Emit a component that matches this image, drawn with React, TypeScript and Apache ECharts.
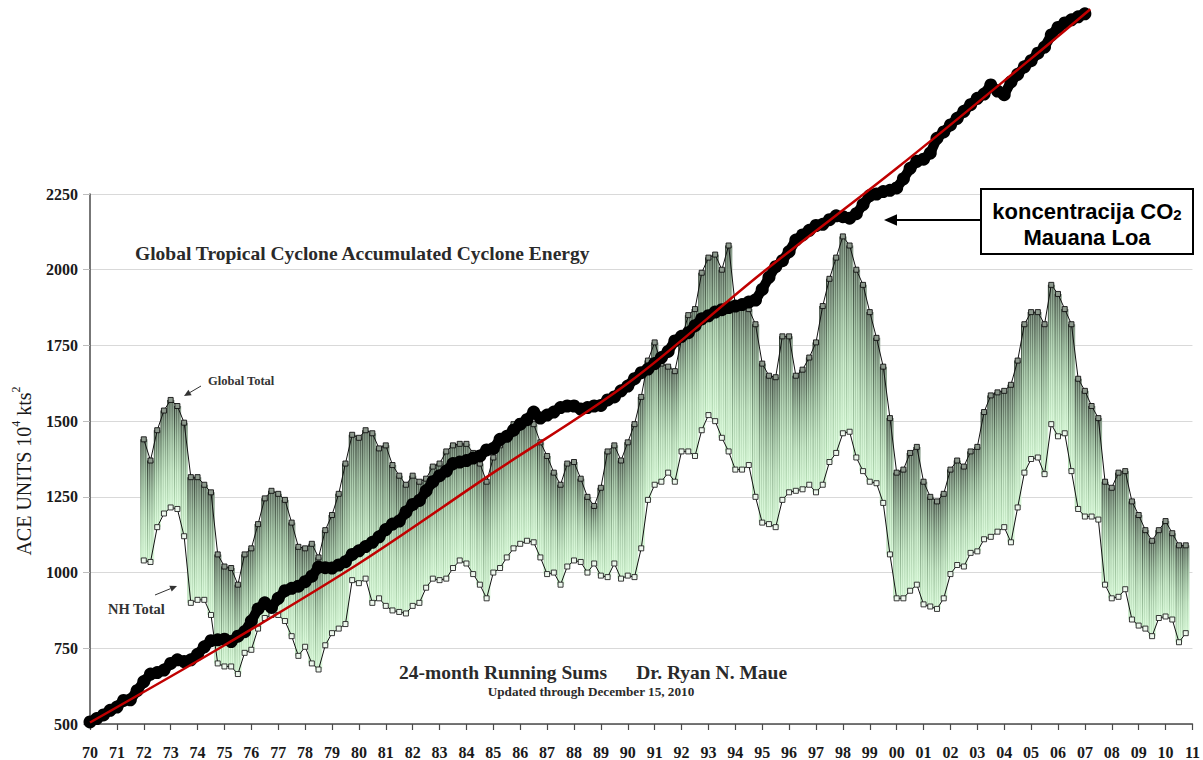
import React, { useEffect, useRef } from 'react';
import * as echarts from 'echarts';

// ---------- DATA ----------
// Quarterly 24-month running sums, first point = 1972.0, step 0.25 year
const aceStartYear = 1972;
const aceStep = 0.25;

const globalTotal = [
  1440, 1370, 1470, 1535,
  1570, 1550, 1495, 1315,
  1315, 1290, 1265, 1060,
  1020, 1015, 960, 1060,
  1080, 1160, 1245, 1270,
  1260, 1240, 1165, 1085,
  1080, 1095, 1050, 1140,
  1190, 1260, 1360, 1455,
  1445, 1470, 1460, 1410,
  1420, 1355, 1320, 1290,
  1320, 1300, 1310, 1350,
  1360, 1400, 1420, 1425,
  1425, 1395, 1360, 1300,
  1380, 1420, 1455, 1490,
  1500, 1495, 1490, 1430,
  1385, 1330, 1290, 1360,
  1365, 1310, 1250, 1220,
  1280, 1400, 1420, 1370,
  1430, 1490, 1580, 1700,
  1760, 1690, 1680, 1665,
  1770, 1850, 1870, 1990,
  2040, 2050, 2000, 2080,
  1880, 1885, 1870, 1820,
  1690, 1650, 1645, 1780,
  1780, 1650, 1670, 1710,
  1760, 1880, 1970, 2040,
  2110, 2080, 2000, 1950,
  1860, 1775, 1680, 1510,
  1330, 1340, 1395, 1415,
  1300, 1250, 1235, 1260,
  1340, 1370, 1350, 1400,
  1415, 1530, 1585, 1595,
  1600, 1620, 1700, 1820,
  1860, 1860, 1820, 1950,
  1920, 1870, 1820, 1640,
  1600, 1550, 1510, 1300,
  1280, 1330, 1335, 1235,
  1190, 1140, 1105, 1140,
  1170, 1130, 1090, 1090,
];

const nhTotal = [
  1040, 1035, 1150, 1195,
  1215, 1210, 1120, 900,
  910, 910, 860, 700,
  690, 690, 665, 735,
  745, 815, 850, 860,
  860, 840, 790, 725,
  755, 700, 680, 760,
  800, 815, 830, 975,
  965, 980, 900, 915,
  890, 875, 870, 865,
  890, 900, 950, 980,
  975, 980, 1015, 1040,
  1030, 995, 960, 915,
  1000, 1015, 1050, 1080,
  1095, 1105, 1100, 1050,
  995, 1000, 960, 1020,
  1040, 1035, 1000, 1030,
  990, 985, 1030, 980,
  990, 985, 1080, 1240,
  1290, 1300, 1330, 1300,
  1400, 1400, 1385, 1470,
  1520, 1500, 1445, 1400,
  1340, 1340, 1355, 1250,
  1165, 1160, 1150, 1240,
  1265, 1270, 1275, 1290,
  1265, 1290, 1365, 1395,
  1460, 1465, 1380, 1335,
  1300, 1295, 1230, 1060,
  915, 915, 940, 960,
  895, 888, 880, 915,
  995, 1025, 1020, 1065,
  1070, 1110, 1118, 1135,
  1150, 1100, 1215, 1330,
  1375, 1380, 1325, 1490,
  1450, 1460, 1335, 1210,
  1185, 1185, 1175, 960,
  915, 920, 945, 845,
  825, 815, 790, 850,
  855, 845, 770, 800,
];

// CO2 concentration (Mauna Loa), drawn on the chart's scale, quarterly from 1970.0
const co2StartYear = 1970;
const co2Step = 0.25;
const co2Values = [
  507, 518, 530, 545,
  556, 578, 580, 610,
  640, 665, 670, 678,
  700, 712, 706, 712,
  730, 755, 775, 778,
  780, 772, 790, 805,
  840, 880, 900, 885,
  915, 940, 948, 955,
  970, 988, 1018, 1016,
  1015, 1025, 1036, 1060,
  1072, 1086, 1100, 1118,
  1142, 1160, 1170, 1200,
  1225, 1238, 1270, 1300,
  1320, 1335, 1360, 1365,
  1370, 1378, 1385, 1405,
  1410, 1440, 1450, 1470,
  1490, 1505, 1530, 1510,
  1520, 1530, 1545, 1550,
  1550, 1540, 1545, 1550,
  1552, 1570, 1580, 1600,
  1616, 1640, 1660, 1672,
  1690, 1710, 1730, 1765,
  1780, 1792, 1815, 1838,
  1848, 1860, 1868, 1875,
  1880, 1885, 1893, 1900,
  1935, 1975, 2010, 2030,
  2060, 2098, 2115, 2130,
  2146, 2150, 2165, 2178,
  2175, 2170, 2185, 2215,
  2245, 2250, 2258, 2262,
  2270, 2300, 2335, 2358,
  2365, 2385, 2434, 2455,
  2478, 2500, 2523, 2545,
  2566, 2580, 2610, 2590,
  2578, 2620, 2645, 2670,
  2690, 2715, 2735, 2775,
  2800, 2815, 2825, 2835,
  2845,
];

// red trend curve
const trendYears = [1970, 1975, 1980, 1985, 1990, 1995, 2000, 2005, 2007.2];
const trendValues = [505, 760, 1030, 1330, 1625, 1990, 2335, 2697, 2860];

// x axis tick labels 1970..2011
const yearTickLabels = [
  '70', '71', '72', '73', '74', '75', '76', '77', '78', '79',
  '80', '81', '82', '83', '84', '85', '86', '87', '88', '89',
  '90', '91', '92', '93', '94', '95', '96', '97', '98', '99',
  '00', '01', '02', '03', '04', '05', '06', '07', '08', '09',
  '10', '11',
];
const firstTickYear = 1970;
const lastTickYear = 2011;

const SERIF = '"Liberation Serif", "DejaVu Serif", serif';
const SANS = '"Liberation Sans", Arial, sans-serif';

function arrow(x1: number, y1: number, x2: number, y2: number, color: string, lw: number, head: number) {
  const ang = Math.atan2(y2 - y1, x2 - x1);
  const hx = x2 - Math.cos(ang) * head;
  const hy = y2 - Math.sin(ang) * head;
  const px = -Math.sin(ang) * head * 0.45;
  const py = Math.cos(ang) * head * 0.45;
  return [
    { type: 'line', shape: { x1, y1, x2: hx, y2: hy }, style: { stroke: color, lineWidth: lw }, z: 100 },
    {
      type: 'polygon',
      shape: { points: [[x2, y2], [hx + px, hy + py], [hx - px, hy - py]] },
      style: { fill: color },
      z: 100,
    },
  ];
}

function vGrad(stops: [number, string][]) {
  return new echarts.graphic.LinearGradient(
    0, 0, 0, 1,
    stops.map(([offset, color]) => ({ offset, color }))
  );
}

export default function App() {
  const ref = useRef<HTMLDivElement>(null);

  useEffect(() => {
    const chart = echarts.init(ref.current!, null, { renderer: 'svg' });

    const aceYears = globalTotal.map((_, i) => aceStartYear + i * aceStep);
    const bandData = aceYears.map((x, i) => [x, nhTotal[i], globalTotal[i]]);
    const globalData = aceYears.map((x, i) => [x, globalTotal[i]]);
    const nhData = aceYears.map((x, i) => [x, nhTotal[i]]);
    const co2Data = co2Values.map((v, i) => [co2StartYear + i * co2Step, v]);
    const trendData = trendYears.map((x, i) => [x, trendValues[i]]);

    const option: any = {
      animation: false,
      backgroundColor: '#ffffff',
      grid: { left: 90, right: 6, top: 194, bottom: 36, containLabel: false },
      xAxis: {
        type: 'value',
        min: firstTickYear,
        max: lastTickYear,
        interval: 1,
        axisLine: { show: true, lineStyle: { color: '#4a4a4a', width: 1.5 } },
        axisTick: { show: true, length: 6, lineStyle: { color: '#4a4a4a', width: 1.2 } },
        splitLine: { show: false },
        axisLabel: {
          margin: 20,
          color: '#1a1a1a',
          fontFamily: SERIF,
          fontWeight: 'bold',
          fontSize: 16,
          showMaxLabel: true,
          showMinLabel: true,
          formatter: (v: number) => yearTickLabels[Math.round(v - firstTickYear)] ?? '',
        },
      },
      yAxis: {
        type: 'value',
        min: 500,
        max: 2250,
        interval: 250,
        axisLine: { show: true, lineStyle: { color: '#4a4a4a', width: 1.5 } },
        axisTick: { show: true, length: 7, lineStyle: { color: '#bdbdbd' } },
        splitLine: { show: true, lineStyle: { color: '#d9d9d9', width: 1 } },
        axisLabel: {
          margin: 12,
          color: '#1a1a1a',
          fontFamily: SERIF,
          fontWeight: 'bold',
          fontSize: 16,
          formatter: (v: number) => String(v),
        },
      },
      series: [
        {
          type: 'custom',
          name: 'band',
          z: 1,
          clip: true,
          data: bandData,
          renderItem: (params: any, api: any) => {
            const x = api.value(0);
            const lo = api.value(1);
            const hi = api.value(2);
            const top = api.coord([x, hi]);
            const bot = api.coord([x, lo]);
            const w = api.size([aceStep, 0])[0];
            const h = Math.max(1, bot[1] - top[1]);
            const x0 = top[0] - w / 2;
            return {
              type: 'group',
              children: [
                {
                  type: 'rect',
                  shape: { x: x0, y: top[1], width: w + 0.4, height: h },
                  style: {
                    fill: vGrad([[0, '#869888'], [0.3, '#aacaac'], [0.65, '#cdeecd'], [1, '#dcf9dc']]),
                  },
                },
                {
                  type: 'rect',
                  shape: { x: x0, y: top[1], width: 0.9, height: h },
                  style: { fill: vGrad([[0, '#263027'], [0.45, '#6d8a6f'], [1, '#b5dfb5']]) },
                },
                {
                  type: 'rect',
                  shape: { x: x0 + w / 3, y: top[1], width: 0.7, height: h },
                  style: { fill: vGrad([[0, '#3a463b'], [0.45, '#86a488'], [1, '#c5ebc5']]) },
                },
                {
                  type: 'rect',
                  shape: { x: x0 + (2 * w) / 3, y: top[1], width: 0.7, height: h },
                  style: { fill: vGrad([[0, '#3a463b'], [0.45, '#86a488'], [1, '#c5ebc5']]) },
                },
              ],
            };
          },
        },
        {
          type: 'line',
          name: 'Global Total',
          z: 3,
          data: globalData,
          symbol: 'rect',
          symbolSize: 5,
          showAllSymbol: true,
          itemStyle: { color: '#8e9a8e', borderColor: '#111', borderWidth: 0.9 },
          lineStyle: { color: '#111', width: 1 },
        },
        {
          type: 'line',
          name: 'NH Total',
          z: 3,
          data: nhData,
          symbol: 'rect',
          symbolSize: 5,
          showAllSymbol: true,
          itemStyle: { color: '#eef8ee', borderColor: '#222', borderWidth: 0.9 },
          lineStyle: { color: '#111', width: 1 },
        },
        {
          type: 'line',
          name: 'CO2 chain',
          z: 4,
          clip: false,
          showSymbol: false,
          data: co2Data,
          lineStyle: { color: '#000000', width: 10, cap: 'round', join: 'round' },
        },
        {
          type: 'scatter',
          name: 'CO2',
          z: 4,
          clip: false,
          data: co2Data,
          symbol: 'circle',
          symbolSize: 13,
          itemStyle: { color: '#000000', opacity: 1 },
        },
        {
          type: 'line',
          name: 'trend',
          z: 5,
          clip: false,
          smooth: 0.35,
          showSymbol: false,
          data: trendData,
          lineStyle: { color: '#c00000', width: 2.5 },
        },
      ],
      graphic: [
        {
          type: 'text',
          x: 135,
          y: 253,
          style: {
            text: 'Global Tropical Cyclone Accumulated Cyclone Energy',
            fontFamily: SERIF,
            fontWeight: 'bold',
            fontSize: 19.5,
            fill: '#2a2a2a',
            verticalAlign: 'middle',
          },
          z: 100,
        },
        {
          type: 'text',
          x: 208,
          y: 381,
          style: {
            text: 'Global Total',
            fontFamily: SERIF,
            fontWeight: 'bold',
            fontSize: 12.5,
            fill: '#333',
            verticalAlign: 'middle',
          },
          z: 100,
        },
        ...arrow(201, 386, 184, 396, '#333', 1, 7),
        {
          type: 'text',
          x: 108,
          y: 609,
          style: {
            text: 'NH Total',
            fontFamily: SERIF,
            fontWeight: 'bold',
            fontSize: 14.5,
            fill: '#333',
            verticalAlign: 'middle',
          },
          z: 100,
        },
        ...arrow(155, 595, 177, 586, '#333', 1, 7),
        {
          type: 'text',
          x: 593,
          y: 672,
          style: {
            text: '24-month Running Sums      Dr. Ryan N. Maue',
            fontFamily: SERIF,
            fontWeight: 'bold',
            fontSize: 19.5,
            fill: '#2a2a2a',
            align: 'center',
            verticalAlign: 'middle',
          },
          z: 100,
        },
        {
          type: 'text',
          x: 591,
          y: 691,
          style: {
            text: 'Updated through December 15, 2010',
            fontFamily: SERIF,
            fontWeight: 'bold',
            fontSize: 13.2,
            fill: '#2a2a2a',
            align: 'center',
            verticalAlign: 'middle',
          },
          z: 100,
        },
        {
          type: 'text',
          x: 22,
          y: 471,
          rotation: Math.PI / 2,
          style: {
            text: '{a|ACE UNITS 10}{s|4}{a| kts}{s|2}',
            align: 'center',
            verticalAlign: 'middle',
            rich: {
              a: { fontFamily: SERIF, fontSize: 20, fill: '#1a1a1a', lineHeight: 24, verticalAlign: 'bottom' },
              s: { fontFamily: SERIF, fontSize: 12, fill: '#1a1a1a', lineHeight: 24, verticalAlign: 'top' },
            },
          },
          z: 100,
        },
        {
          type: 'rect',
          shape: { x: 981, y: 189, width: 212, height: 65 },
          style: { fill: '#ffffff', stroke: '#000000', lineWidth: 2 },
          z: 100,
        },
        {
          type: 'text',
          x: 1087,
          y: 209,
          style: {
            text: '{a|koncentracija CO}{b|2}',
            align: 'center',
            verticalAlign: 'middle',
            rich: {
              a: { fontFamily: SANS, fontWeight: 'bold', fontSize: 22, fill: '#000', lineHeight: 26, verticalAlign: 'bottom' },
              b: { fontFamily: SANS, fontWeight: 'bold', fontSize: 15, fill: '#000', lineHeight: 22, verticalAlign: 'bottom' },
            },
          },
          z: 101,
        },
        {
          type: 'text',
          x: 1087,
          y: 237,
          style: {
            text: 'Mauana Loa',
            fontFamily: SANS,
            fontWeight: 'bold',
            fontSize: 22,
            fill: '#000',
            align: 'center',
            verticalAlign: 'middle',
          },
          z: 101,
        },
        ...arrow(981, 220, 884, 220, '#000', 2, 13),
      ],
    };

    chart.setOption(option);
    return () => chart.dispose();
  }, []);

  return (
    <div
      ref={ref}
      style={{ position: 'fixed', left: 0, top: 0, width: 1203, height: 760, background: '#ffffff' }}
    />
  );
}
